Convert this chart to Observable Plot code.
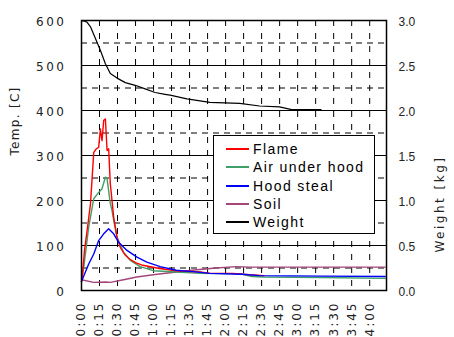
<!DOCTYPE html>
<html><head><meta charset="utf-8">
<script src="https://cdn.jsdelivr.net/npm/d3@7"></script>
<script src="https://cdn.jsdelivr.net/npm/@observablehq/plot@0.6"></script>
<style>
body{margin:0;background:#fff;}
#wrap{position:relative;width:454px;height:337px;overflow:hidden;}
#legend{position:absolute;left:213px;top:135px;width:162px;height:99px;border:1.5px solid #000;background:#fff;box-sizing:border-box;padding-top:4px;font-family:"Liberation Sans",Arial,sans-serif;font-size:14px;letter-spacing:1.4px;color:#000;}
.row{height:18.3px;display:flex;align-items:center;}
.sw{display:inline-block;width:23px;height:2px;margin-left:12px;margin-right:4px;flex:none;}
</style>
</head><body>
<div id="wrap"><div id="legend"></div></div>
<script>
// ---- data ----
const seriesNames = ["Flame", "Air under hood", "Hood steal", "Soil", "Weight"];
const seriesColors = ["#ff0000", "#3f9f68", "#0000ff", "#a3467a", "#000000"];

// time in minutes, temperature in C
const flameTime = [0, 0.6, 2.5, 5, 7.5, 10.2, 12.4, 14.3, 15.7, 17.1, 18.5, 19.9, 21.3, 22.6, 24, 26.8, 29.6, 32.3, 36, 40, 45, 51, 65, 79, 99, 107, 126, 140, 152];
const flameTemp = [20, 30, 89, 140, 193, 307, 315, 318, 359, 333, 378, 381, 311, 315, 237, 163, 118, 96, 80, 70, 62, 56, 49, 44, 41, 38, 38, 35, 33];

const airTime = [0, 1.9, 6, 10.2, 14.3, 17.1, 19.9, 21.3, 24, 25.4, 26.8, 29.6, 35, 40.6, 48.9, 59.7, 79, 99, 132, 142, 152, 200, 253];
const airTemp = [20, 52, 141, 204, 218, 226, 252, 248, 193, 178, 156, 118, 85, 67, 53, 44, 41, 38, 37, 31, 30, 29, 27];

const hoodTime = [0, 6, 10.2, 14.3, 18.5, 22.6, 26.8, 30.9, 37.9, 46.2, 54.4, 65.5, 79, 92.8, 107, 134, 148, 200, 253];
const hoodTemp = [20, 59, 81, 111, 126, 137, 126, 107, 89, 74, 63, 53, 45, 42, 38, 36, 33, 32, 31];

const soilTime = [0, 10, 20, 24, 35, 46, 63, 79, 96, 112, 129, 140, 253];
const soilTemp = [24, 18, 19, 18, 24, 30, 36, 41, 46, 50, 53, 52, 52];

// weight in kg
const weightTime = [0, 0.6, 3, 4.7, 7.5, 11.6, 15.7, 19.9, 24, 29.6, 36.5, 44.7, 53, 61.3, 69.6, 73.8, 87.8, 106.9, 131.8, 148.3, 164.9, 175, 199.5];
const weightKg = [2.98, 3.0, 2.99, 2.98, 2.93, 2.8, 2.67, 2.52, 2.41, 2.36, 2.31, 2.28, 2.24, 2.2, 2.18, 2.17, 2.13, 2.09, 2.08, 2.05, 2.04, 2.01, 2.01];

// ticks
const timeTicks = [0, 15, 30, 45, 60, 75, 90, 105, 120, 135, 150, 165, 180, 195, 210, 225, 240];
const timeTickLabels = ["0:00","0:15","0:30","0:45","1:00","1:15","1:30","1:45","2:00","2:15","2:30","2:45","3:00","3:15","3:30","3:45","4:00"];
const tempTicks = [0, 100, 200, 300, 400, 500, 600];
const tempMinorTicks = [50, 150, 250, 350, 450, 550];
const weightTickLabels = ["0.0","0.5","1.0","1.5","2.0","2.5","3.0"];
const tempMax = 600, weightMax = 3.0;

// ---- build rows ----
const toRows = (ts, vs) => ts.map((t, i) => ({t, v: vs[i]}));
const flameRows = toRows(flameTime, flameTemp);
const airRows = toRows(airTime, airTemp);
const hoodRows = toRows(hoodTime, hoodTemp);
const soilRows = toRows(soilTime, soilTemp);
const weightRows = weightTime.map((t, i) => ({t, v: weightKg[i] * tempMax / weightMax}));

const lw = 1.4;
const chart = Plot.plot({
  width: 454, height: 337,
  marginLeft: 81, marginRight: 68, marginTop: 20, marginBottom: 47,
  style: {fontFamily: "'DejaVu Sans', sans-serif", fontSize: "12px", background: "#fff", color: "#222"},
  x: {domain: [0, 254]},
  y: {domain: [0, tempMax]},
  marks: [
    Plot.gridY({ticks: tempMinorTicks, stroke: "#000", strokeOpacity: 1, strokeWidth: 1, strokeDasharray: "6,5"}),
    Plot.gridX({ticks: timeTicks.slice(1), stroke: "#000", strokeOpacity: 1, strokeWidth: 1, strokeDasharray: "6,7"}),
    Plot.gridY({ticks: tempTicks.slice(1, -1), stroke: "#000", strokeOpacity: 1, strokeWidth: 1}),
    Plot.line(soilRows, {x: "t", y: "v", stroke: seriesColors[3], strokeWidth: lw}),
    Plot.line(airRows, {x: "t", y: "v", stroke: seriesColors[1], strokeWidth: lw}),
    Plot.line(flameRows, {x: "t", y: "v", stroke: seriesColors[0], strokeWidth: lw}),
    Plot.line(hoodRows, {x: "t", y: "v", stroke: seriesColors[2], strokeWidth: lw}),
    Plot.line(weightRows, {x: "t", y: "v", stroke: seriesColors[4], strokeWidth: 1.2}),
    Plot.frame({stroke: "#000", strokeWidth: 1.5}),
    Plot.axisY({ticks: tempTicks, anchor: "left", tickSize: 0, tickPadding: 15, dy: 2, label: null, tickFormat: d => String(d)}),
    Plot.axisY({ticks: tempTicks, anchor: "right", tickSize: 0, tickPadding: 12, dy: 2, label: null,
      tickFormat: d => weightTickLabels[tempTicks.indexOf(d)], fontFamily: "'Liberation Sans', Arial, sans-serif"}),
    Plot.axisX({ticks: timeTicks, anchor: "bottom", tickSize: 0, tickPadding: 11, tickRotate: -90, label: null,
      tickFormat: d => timeTickLabels[timeTicks.indexOf(d)]}),
    Plot.text(["Temp. [C]"], {frameAnchor: "left", dx: -66, rotate: -90, fill: "#222"}),
    Plot.text(["Weight [kg]"], {frameAnchor: "right", dx: 54, rotate: -90, fill: "#222"})
  ]
});
document.getElementById("wrap").prepend(chart);

// letter spacing to mimic the wide original lettering
d3.select(chart).selectAll("text").each(function() {
  const s = this.textContent;
  if (/^\d+$/.test(s)) this.style.letterSpacing = "2.5px";
  else if (/:/.test(s)) this.style.letterSpacing = "2px";
  else if (/Temp/.test(s)) this.style.letterSpacing = "1.3px";
  else if (/Weight/.test(s)) this.style.letterSpacing = "2.5px";
});

// legend
const legend = document.getElementById("legend");
seriesNames.forEach((name, i) => {
  const row = document.createElement("div");
  row.className = "row";
  const sw = document.createElement("span");
  sw.className = "sw";
  sw.style.background = seriesColors[i];
  const lab = document.createElement("span");
  lab.textContent = name;
  row.append(sw, lab);
  legend.append(row);
});
</script>
</body></html>
